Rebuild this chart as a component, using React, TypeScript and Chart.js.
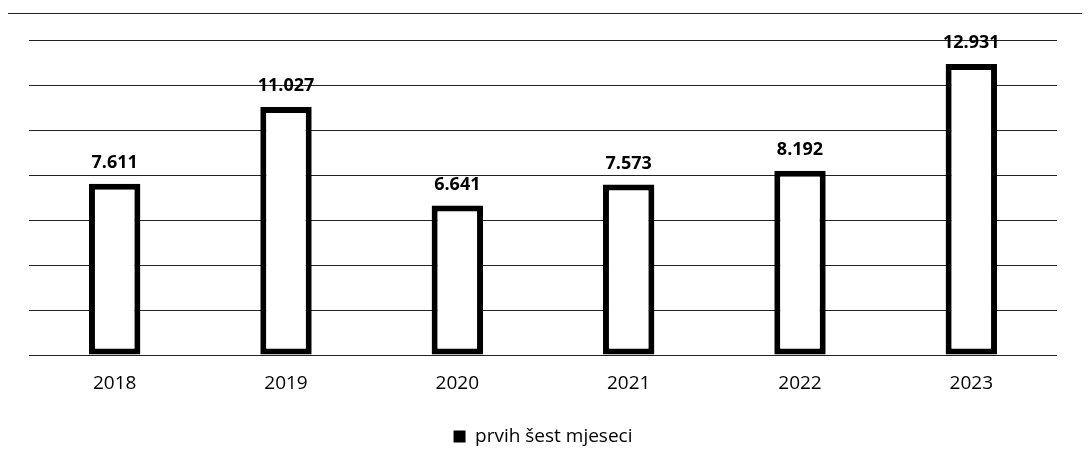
import React, { useEffect, useRef } from "react";
import { Chart, registerables } from "chart.js";

Chart.register(...registerables);

const categories: string[] = ["2018", "2019", "2020", "2021", "2022", "2023"];
const values: number[] = [7611, 11027, 6641, 7573, 8192, 12931];
const seriesName = "prvih šest mjeseci";
const yMax = 14000;
const yStep = 2000;

const FONT = "'Open Sans', 'DejaVu Sans', sans-serif";

function fmt(v: number): string {
  const s = String(Math.round(v));
  return s.replace(/\B(?=(\d{3})+(?!\d))/g, ".");
}

const valueLabels = {
  id: "valueLabels",
  afterDatasetsDraw(chart: any) {
    const ctx = chart.ctx;
    const meta = chart.getDatasetMeta(0);
    ctx.save();
    ctx.font = `bold 18px ${FONT}`;
    ctx.fillStyle = "#000";
    ctx.textAlign = "center";
    ctx.textBaseline = "alphabetic";
    meta.data.forEach((bar: any, i: number) => {
      ctx.fillText(fmt(values[i]), bar.x, bar.y - 16);
    });
    ctx.restore();
  },
};

export default function App() {
  const ref = useRef<HTMLCanvasElement | null>(null);

  useEffect(() => {
    if (!ref.current) return;
    const chart = new Chart(ref.current, {
      type: "bar",
      data: {
        labels: categories,
        datasets: [
          {
            label: seriesName,
            data: values,
            backgroundColor: "#ffffff",
            borderColor: "#000000",
            borderWidth: 6,
            borderSkipped: false,
            categoryPercentage: 1,
            barPercentage: 0.3,
          },
        ],
      },
      options: {
        animation: false,
        responsive: false,
        maintainAspectRatio: false,
        layout: { padding: { top: 26, left: 21, right: 33, bottom: 16 } },
        scales: {
          x: {
            grid: { display: false, drawTicks: false },
            border: { display: false },
            ticks: {
              color: "#000",
              font: { family: FONT, size: 19 },
              padding: 17,
            },
            afterFit: (s: any) => {
              s.height = 62;
            },
          },
          y: {
            min: 0,
            max: yMax,
            ticks: { display: false, stepSize: yStep },
            grid: { color: "#222", lineWidth: 1, drawTicks: false },
            border: { display: false },
            afterFit: (s: any) => {
              s.width = 0;
            },
          },
        },
        plugins: {
          tooltip: { enabled: false },
          legend: {
            position: "bottom",
            labels: {
              boxWidth: 12,
              boxHeight: 12,
              padding: 10,
              color: "#000",
              font: { family: FONT, size: 19 },
              generateLabels: () => [
                {
                  text: seriesName,
                  fillStyle: "#000",
                  strokeStyle: "#000",
                  lineWidth: 0,
                  hidden: false,
                  datasetIndex: 0,
                  fontColor: "#000",
                },
              ],
            },
          },
        },
      },
      plugins: [valueLabels],
    });
    return () => chart.destroy();
  }, []);

  return (
    <div style={{ position: "relative", width: 1082, height: 464 }}>
      <div style={{ position: "absolute", top: 5, left: -1, width: 1083, height: 1, background: "#222" }} />
      <div style={{ position: "absolute", top: 3, left: -1, width: 1, height: 460, background: "#222" }} />
      <canvas ref={ref} width={1082} height={458} style={{ position: "absolute", top: 6, left: 0, display: "block" }} />
    </div>
  );
}
